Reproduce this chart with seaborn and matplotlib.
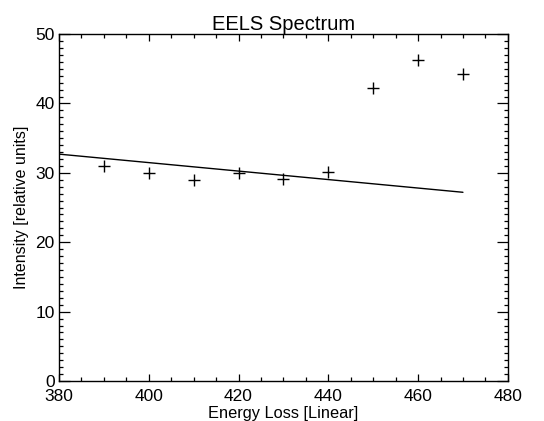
import matplotlib
matplotlib.use("Agg")
import matplotlib.pyplot as plt
import seaborn as sns
import pandas as pd
from matplotlib.ticker import MultipleLocator

# Measured spectrum points
energy = [390, 400, 410, 420, 430, 440, 450, 460, 470]
intensity = [31.0, 30.0, 29.0, 30.0, 29.1, 30.1, 42.2, 46.2, 44.2]

# Pre-edge background fit
fit_energy = [380, 470]
fit_intensity = [32.7, 27.2]

x_ticks = [380, 400, 420, 440, 460, 480]
y_ticks = [0, 10, 20, 30, 40, 50]

sns.set_theme(style="ticks")
plt.rcParams["font.family"] = ["Liberation Sans", "DejaVu Sans"]
plt.rcParams["text.color"] = "black"
plt.rcParams["axes.labelcolor"] = "black"

pts = pd.DataFrame({"energy": energy, "intensity": intensity})
fit = pd.DataFrame({"energy": fit_energy, "intensity": fit_intensity})

fig = plt.figure(figsize=(5.44, 4.21), dpi=100)
ax = fig.add_axes([0.1085, 0.095, 0.825, 0.824])

sns.lineplot(data=fit, x="energy", y="intensity", ax=ax, color="black",
             linewidth=1.0, sort=False)
sns.scatterplot(data=pts, x="energy", y="intensity", ax=ax, marker="+",
                color="black", s=70, linewidth=1.0)

ax.set_xlim(380, 480)
ax.set_ylim(0, 50)
ax.set_xticks(x_ticks)
ax.set_yticks(y_ticks)
ax.xaxis.set_minor_locator(MultipleLocator(5))
ax.yaxis.set_minor_locator(MultipleLocator(1))
ax.tick_params(which="both", direction="in", top=True, right=True,
               colors="black", labelcolor="black", labelsize=12.5, width=0.9)
ax.tick_params(axis="x", which="major", length=5, pad=6)
ax.tick_params(axis="x", which="minor", length=3)
ax.tick_params(axis="y", which="major", length=8, pad=3)
ax.tick_params(axis="y", which="minor", length=3)
for sp in ax.spines.values():
    sp.set_visible(True)
    sp.set_color("black")
    sp.set_linewidth(1.0)

ax.set_xlabel("Energy Loss [Linear]", fontsize=11.8, labelpad=1, color="black")
ax.set_ylabel("Intensity [relative units]", fontsize=11.5, labelpad=5, color="black")
ax.set_title("EELS Spectrum", fontsize=14.5, pad=3, color="black")

fig.savefig("out.png", dpi=100)
